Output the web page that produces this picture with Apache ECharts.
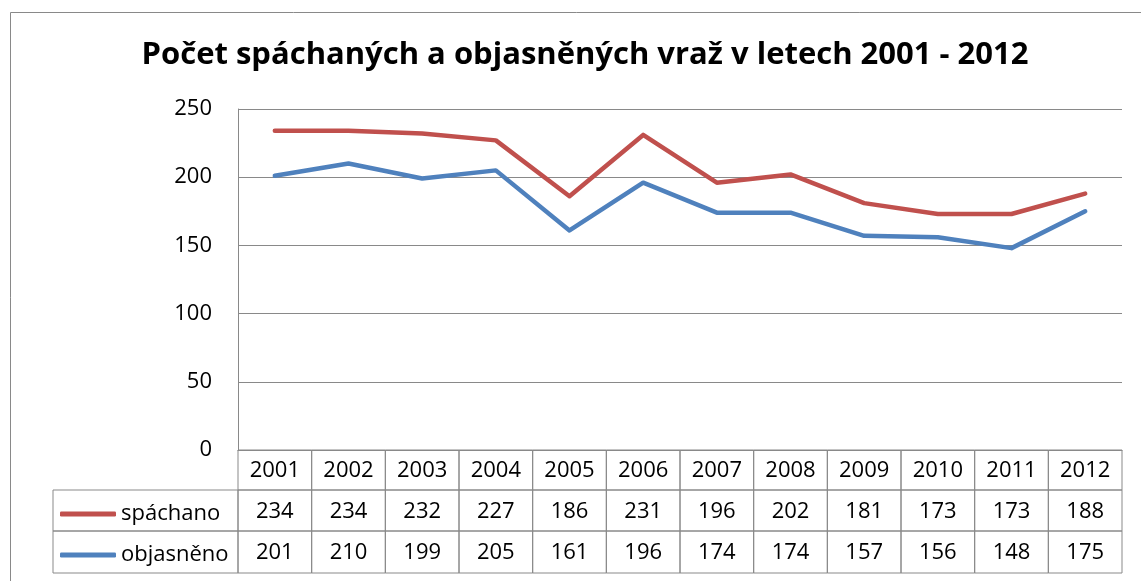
<!DOCTYPE html>
<html>
<head>
<meta charset="utf-8">
<script src="https://cdn.jsdelivr.net/npm/echarts@6/dist/echarts.min.js"></script>
<style>html,body{margin:0;padding:0;background:#fff}#c{width:1141px;height:581px}</style>
</head>
<body>
<div id="c"></div>
<script>
const titleText = 'Počet spáchaných a objasněných vraž v letech 2001 - 2012';
const years = ['2001','2002','2003','2004','2005','2006','2007','2008','2009','2010','2011','2012'];
const spachano = [234,234,232,227,186,231,196,202,181,173,173,188];
const objasneno = [201,210,199,205,161,196,174,174,157,156,148,175];
const seriesNames = ['spáchano','objasněno'];
const yTicks = [0, 50, 100, 150, 200, 250];

const FONT = 'Open Sans';
const GRID = '#898989';
const RED = '#C0504D';
const BLUE = '#4F81BD';
const rowH = [40, 41, 42];
const legendColW = 185;

const chart = echarts.init(document.getElementById('c'));

function renderTable(params, api) {
  const i = params.dataIndex;
  const cs = params.coordSys;
  const cx = api.coord([i, 0])[0];
  const w = api.size([1, 0])[0];
  const x0 = cx - w / 2;
  let y = cs.y + cs.height;
  const texts = [years[i], String(spachano[i]), String(objasneno[i])];
  const children = [];
  for (let r = 0; r < 3; r++) {
    children.push({
      type: 'rect',
      shape: { x: x0, y: y, width: w, height: rowH[r] },
      style: { fill: null, stroke: GRID, lineWidth: 1 }
    });
    children.push({
      type: 'text',
      style: {
        x: cx, y: y + rowH[r] / 2 + 1, text: texts[r],
        align: 'center', verticalAlign: 'middle',
        font: '22px "' + FONT + '"', fill: '#000'
      }
    });
    if (i === 0 && r > 0) {
      children.push({
        type: 'rect',
        shape: { x: cs.x - legendColW, y: y, width: legendColW, height: rowH[r] },
        style: { fill: null, stroke: GRID, lineWidth: 1 }
      });
    }
    y += rowH[r];
  }
  return { type: 'group', children: children };
}

const option = {
  animation: false,
  title: {
    text: titleText,
    left: 580,
    textAlign: 'center',
    top: 35,
    textStyle: { fontFamily: FONT, fontWeight: 'bold', fontSize: 31, color: '#000' }
  },
  legend: [
    {
      data: [seriesNames[0]], left: 55, top: 498, icon: 'roundRect',
      itemWidth: 56, itemHeight: 5, selectedMode: false,
      textStyle: { fontFamily: FONT, fontSize: 22, color: '#000' }
    },
    {
      data: [seriesNames[1]], left: 55, top: 539, icon: 'roundRect',
      itemWidth: 56, itemHeight: 5, selectedMode: false,
      textStyle: { fontFamily: FONT, fontSize: 22, color: '#000' }
    }
  ],
  graphic: [{
    type: 'rect', left: 8, top: 10,
    shape: { width: 1200, height: 700 },
    style: { fill: null, stroke: GRID, lineWidth: 1 },
    silent: true
  }],
  grid: { left: 238, right: 19, top: 109, bottom: 131 },
  xAxis: {
    type: 'category', data: years, boundaryGap: true,
    axisLine: { show: true, lineStyle: { color: GRID } },
    axisTick: { show: false }, axisLabel: { show: false }
  },
  yAxis: {
    type: 'value', min: yTicks[0], max: yTicks[yTicks.length - 1], interval: 50,
    axisLine: { show: true, lineStyle: { color: GRID } },
    axisTick: { show: false },
    axisLabel: { fontFamily: FONT, fontSize: 22, color: '#000', margin: 26 },
    splitLine: { lineStyle: { color: GRID, width: 1 } }
  },
  series: [
    {
      name: seriesNames[0], type: 'line', data: spachano, color: RED,
      symbol: 'none', lineStyle: { width: 4.5, cap: 'round', join: 'round' }
    },
    {
      name: seriesNames[1], type: 'line', data: objasneno, color: BLUE,
      symbol: 'none', lineStyle: { width: 4.5, cap: 'round', join: 'round' }
    },
    {
      type: 'custom', clip: false, silent: true,
      data: years.map((y, i) => [i, 0]),
      encode: { x: 0, y: 1 },
      renderItem: renderTable
    }
  ]
};
chart.setOption(option);
</script>
</body>
</html>
